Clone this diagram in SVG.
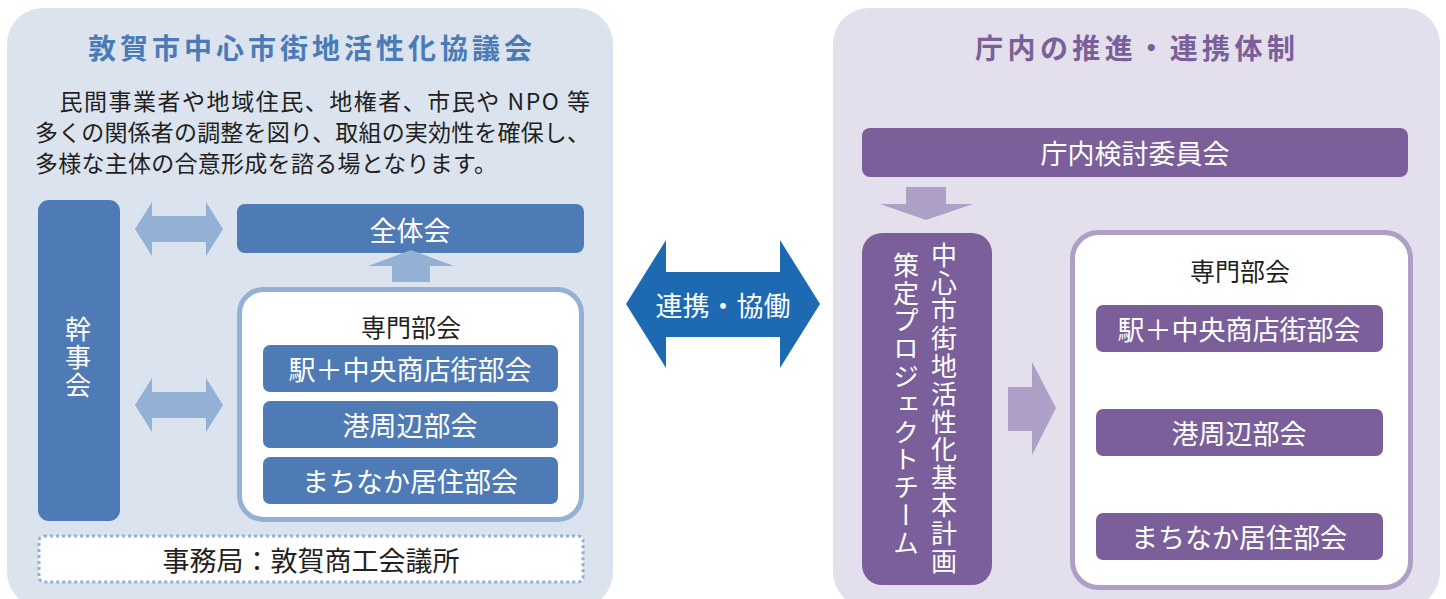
<svg xmlns="http://www.w3.org/2000/svg" width="1446" height="599" viewBox="0 0 1446 599">
<style>
text{font-family:"Noto Sans CJK JP","Noto Sans CJK SC",sans-serif;}
.w{fill:#fff;font-size:27px;text-anchor:middle;dominant-baseline:central;}
.k{fill:#231f20;font-size:23px;}
.h{fill:#231f20;font-size:25px;text-anchor:middle;dominant-baseline:central;}
.bb{fill:#4e7bb5;}
.pb{fill:#7a5f9a;}
.la{fill:#93b0d5;}
.lp{fill:#ae9fc6;}
.vt{writing-mode:vertical-rl;fill:#fff;font-size:26px;letter-spacing:1.8px;}
</style>
<rect width="1446" height="599" fill="#fff"/>
<g id="left-panel">
<rect x="7" y="8" width="606" height="600" rx="36" fill="#dbe3ef"/>
<text x="310" y="47" text-anchor="middle" dominant-baseline="central" font-size="28" font-weight="bold" fill="#4a7bb7" textLength="444" lengthAdjust="spacing">敦賀市中心市街地活性化協議会</text>
<text class="k" x="35" y="110" textLength="555" lengthAdjust="spacing">　民間事業者や地域住民、地権者、市民や NPO 等</text>
<text class="k" x="35" y="141" textLength="555" lengthAdjust="spacing">多くの関係者の調整を図り、取組の実効性を確保し、</text>
<text class="k" x="35" y="172" textLength="462" lengthAdjust="spacing">多様な主体の合意形成を諮る場となります。</text>
</g>
<g id="kanji">
<rect class="bb" x="38" y="200" width="82" height="321" rx="11"/>
<text x="78" y="316" style="writing-mode:vertical-rl;fill:#fff;font-size:26px;letter-spacing:2px">幹事会</text>
</g>
<g id="zentai">
<rect class="bb" x="237" y="204" width="347" height="49" rx="8"/>
<text class="w" x="410" y="229">全体会</text>
</g>
<g id="senmon-left">
<rect x="239.5" y="289.5" width="342" height="230" rx="24" fill="#fff" stroke="#93b0d5" stroke-width="5"/>
<text class="h" x="411" y="326">専門部会</text>
<rect class="bb" x="263" y="345" width="295" height="47" rx="7"/>
<text class="w" x="410" y="368">駅＋中央商店街部会</text>
<rect class="bb" x="263" y="401" width="295" height="47" rx="7"/>
<text class="w" x="410" y="424">港周辺部会</text>
<rect class="bb" x="263" y="457" width="295" height="47" rx="7"/>
<text class="w" x="410" y="480">まちなか居住部会</text>
</g>
<g id="jimukyoku">
<rect x="39" y="536" width="544" height="46" rx="5" fill="#fff" stroke="#93b0d5" stroke-width="3" stroke-dasharray="3 3"/>
<text x="311" y="559" text-anchor="middle" dominant-baseline="central" font-size="27" fill="#231f20">事務局：敦賀商工会議所</text>
</g>
<g id="right-panel">
<rect x="833" y="8" width="607" height="600" rx="36" fill="#e4dfec"/>
<text x="1135" y="47" text-anchor="middle" dominant-baseline="central" font-size="28" font-weight="bold" fill="#7a5f9a" textLength="320" lengthAdjust="spacing">庁内の推進・連携体制</text>
</g>
<g id="chonai">
<rect class="pb" x="862" y="128" width="546" height="49" rx="8"/>
<text class="w" x="1135" y="152">庁内検討委員会</text>
</g>
<g id="team">
<rect class="pb" x="862" y="233" width="130" height="352" rx="20"/>
<text class="vt" x="944" y="242">中心市街地活性化基本計画</text>
<text class="vt" x="906" y="252">策定プロジェクトチーム</text>
</g>
<g id="senmon-right">
<rect x="1072.5" y="232.5" width="338" height="355" rx="26" fill="#fff" stroke="#ae9fc6" stroke-width="5"/>
<text class="h" x="1240" y="270">専門部会</text>
<rect class="pb" x="1096" y="305" width="287" height="47" rx="7"/>
<text class="w" x="1239" y="328">駅＋中央商店街部会</text>
<rect class="pb" x="1096" y="409" width="287" height="47" rx="7"/>
<text class="w" x="1239" y="432">港周辺部会</text>
<rect class="pb" x="1096" y="513" width="287" height="47" rx="7"/>
<text class="w" x="1239" y="536">まちなか居住部会</text>
</g>
<g id="connectors">
<polygon class="la" points="135,229 152,202 152,216 206,216 206,202 223,229 206,256 206,242 152,242 152,256"/>
<polygon class="la" points="135,405 152,378 152,392 206,392 206,378 223,405 206,432 206,418 152,418 152,432"/>
<polygon class="la" points="368,266 411,250 454,266 430,266 430,282 392,282 392,266"/>
<polygon fill="#1d6ab3" points="626,304 666,240 666,272 780,272 780,240 820,304 780,368 780,337 666,337 666,368"/>
<text class="w" x="723" y="304">連携・協働</text>
<polygon class="lp" points="906,187 946,187 946,204 973,204 926,220 880,204 906,204"/>
<polygon class="lp" points="1008,387 1032,387 1032,362 1056,408 1032,455 1032,431 1008,431"/>
</g>
</svg>
